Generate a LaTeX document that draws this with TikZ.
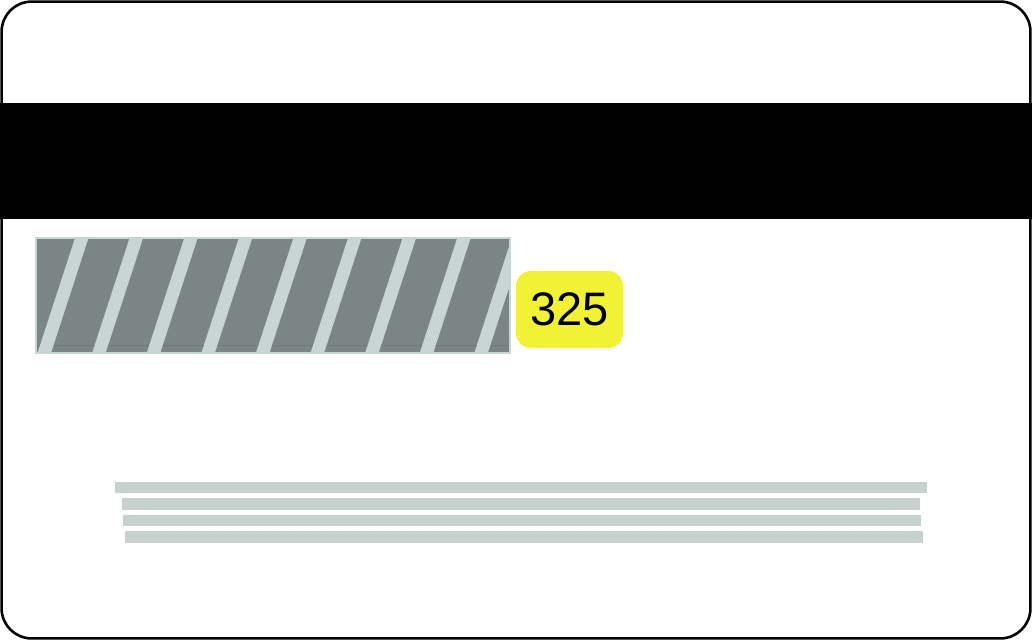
\documentclass[tikz,border=0pt]{standalone}
\usepackage{fontspec}
\setmainfont{Liberation Sans}
\definecolor{panelgray}{HTML}{7B8684}
\definecolor{panelline}{HTML}{6F7977}
\definecolor{stripegray}{HTML}{C9D5D3}
\definecolor{textline}{HTML}{C7D1CD}
\definecolor{cvvyellow}{HTML}{F2F235}
\tikzset{
  cardedge/.style={draw=black, line width=2.6pt, rounded corners=30pt, fill=white},
  sigstripe/.style={fill=stripegray},
  bar/.style={fill=textline},
  cvvbox/.style={fill=cvvyellow, rounded corners=15pt, minimum width=107pt, minimum height=77pt, inner sep=0pt, font=\fontsize{47}{47}\selectfont}
}
\begin{document}
\begin{tikzpicture}[x=1pt,y=-1pt]
\useasboundingbox (0,0) rectangle (1032,640);
% card outline
\draw[cardedge] (1.6,1.6) rectangle (1030.4,638.4);
% magnetic stripe
\fill[black] (0,103) rectangle (1032,219);
% signature panel
\begin{scope}
  \clip (36,238) rectangle (510,353);
  \fill[panelgray] (36,238) rectangle (510,353);
  \draw[panelline, line width=1pt] (36,345) -- (510,345);
  \foreach \i in {-1,0,...,9} {
    \pgfmathsetmacro{\xt}{75+54.6*\i}
    \fill[sigstripe] (\xt,238) -- (\xt+13.5,238) -- (\xt+13.5-37.5,353) -- (\xt-37.5,353) -- cycle;
  }
\end{scope}
\draw[stripegray, line width=1.5pt] (36,238) rectangle (510,353);
% CVV
\node[cvvbox] (cvv) at (569.5,309.5) {325};
% text lines
\fill[bar] (115,482) rectangle (927,493);
\fill[bar] (122,498) rectangle (920,510);
\fill[bar] (123,515) rectangle (921,526);
\fill[bar] (125,531) rectangle (923,543);
\end{tikzpicture}
\end{document}
